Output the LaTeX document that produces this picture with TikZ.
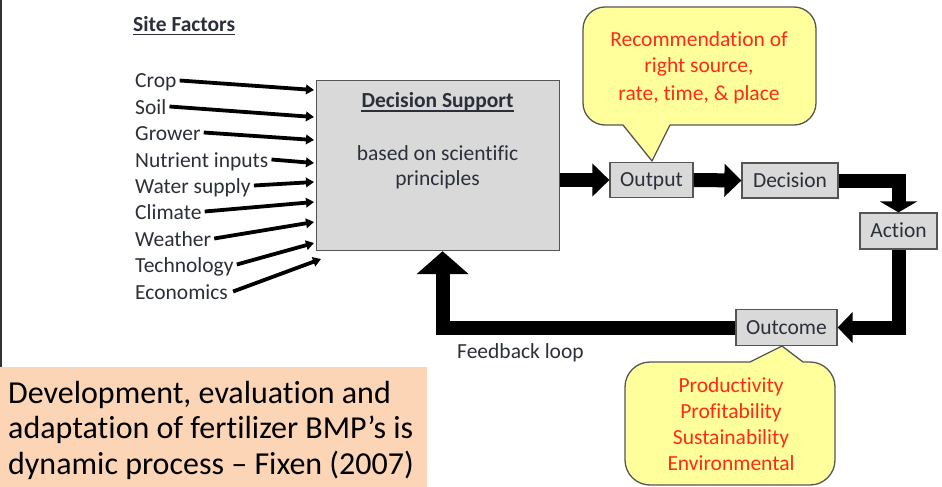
\documentclass[tikz,border=0pt]{standalone}
\usepackage{fontspec}
\setmainfont{Carlito}[Ligatures={CommonOff}]
\usetikzlibrary{arrows.meta,calc}
\definecolor{txt}{HTML}{2B2F3A}
\definecolor{boxg}{HTML}{D9D9D9}
\definecolor{boxb}{HTML}{555555}
\definecolor{yel}{HTML}{FFFF9C}
\definecolor{redt}{HTML}{FF2A1A}
\definecolor{peach}{HTML}{FBD5B5}
\begin{document}
\begin{tikzpicture}[x=1pt,y=-1pt,
  fnt/.style={font=\fontsize{21.5}{26}\selectfont},
  lbl/.style={fnt, anchor=base west, inner xsep=2pt, inner ysep=0pt, text height=15pt, text depth=0pt, text=txt},
  ctext/.style={fnt, anchor=base, inner sep=0pt},
  gbox/.style={draw=boxb, fill=boxg, line width=1.2pt},
  sbox/.style={gbox, fnt, inner sep=0pt, text height=13.8pt, text depth=0pt, text=txt},
  thinarrow/.style={line width=3.8pt, -{Triangle[length=8pt,width=9.5pt]}},
  bigarrow/.style 2 args={line width=14pt, line join=miter, -{Triangle[length=#1,width=#2]}},
  callout/.style={fill=yel, draw=boxb, line width=1.3pt, line join=round},
  peachtext/.style={anchor=base west, inner sep=0pt, text=black, font=\fontsize{32}{36}\selectfont}
]
\useasboundingbox (0,0) rectangle (942,487);

% left border and peach panel
\draw[line width=2pt, black!80] (1,0) -- (1,367);
\fill[peach] (0,367) rectangle (427,487);
\node[peachtext] (p1) at (8,403) {Development, evaluation and};
\node[peachtext] (p2) at (8,438.5) {adaptation of fertilizer BMP’s is};
\node[peachtext] (p3) at (8,474) {dynamic process – Fixen (2007)};

% site factors
\node[lbl, inner xsep=0pt, font=\bfseries\fontsize{21.5}{26}\selectfont] (sf) at (133,32) {Site Factors};
\draw[txt, line width=1.2pt] ([yshift=-2.5pt]sf.base west) -- ([yshift=-2.5pt]sf.base east);

\node[lbl] (crop) at (133,88) {Crop};
\node[lbl] (soil) at (133,114) {Soil};
\node[lbl] (grow) at (133,140) {Grower};
\node[lbl] (nutr) at (133,167) {Nutrient inputs};
\node[lbl] (water) at (133,193) {Water supply};
\node[lbl] (clim) at (133,219) {Climate};
\node[lbl] (weat) at (133,246) {Weather};
\node[lbl] (tech) at (133,272) {Technology};
\node[lbl] (econ) at (133,299) {Economics};

\coordinate (e1) at (314,90);
\coordinate (e2) at (314,117);
\coordinate (e3) at (314,140);
\coordinate (e4) at (314,163);
\coordinate (e5) at (314,182);
\coordinate (e6) at (314,202);
\coordinate (e7) at (314,222);
\coordinate (e8) at (314,243);
\coordinate (e9) at (321,259);

\draw[thinarrow] ([xshift=1pt]crop.east) -- (e1);
\draw[thinarrow] ([xshift=1pt]soil.east) -- (e2);
\draw[thinarrow] ([xshift=1pt]grow.east) -- (e3);
\draw[thinarrow] ([xshift=1pt]nutr.east) -- (e4);
\draw[thinarrow] ([xshift=1pt]water.east) -- (e5);
\draw[thinarrow] ([xshift=1pt]clim.east) -- (e6);
\draw[thinarrow] ([xshift=1pt]weat.east) -- (e7);
\draw[thinarrow] ([xshift=1pt]tech.east) -- (e8);
\draw[thinarrow] ([xshift=3pt]econ.east) -- (e9);

% callouts
\draw[callout] (652,161) -- (623,125) {[rounded corners=22pt] -- (583,125) -- (583,7) -- (816,7) -- (816,125)} -- (670,125) -- cycle;
\node[ctext, text=redt] (r1) at (699,47) {Recommendation of};
\node[ctext, text=redt] (r2) at (699,73) {right source,};
\node[ctext, text=redt] (r3) at (699,100) {rate, time, \& place};

\draw[callout] (782,346) -- (750,362) {[rounded corners=25pt] -- (625,362) -- (625,485) -- (835,485) -- (835,362)} -- (803,362) -- cycle;
\node[ctext, text=redt] (q1) at (731,392) {Productivity};
\node[ctext, text=redt] (q2) at (731,418) {Profitability};
\node[ctext, text=redt] (q3) at (731,444) {Sustainability};
\node[ctext, text=redt] (q4) at (731,470) {Environmental};

% decision support box
\node[gbox, minimum width=243pt, minimum height=170pt, anchor=north west, inner sep=0pt] (ds) at (316,80) {};
\node[ctext, text=txt, font=\bfseries\fontsize{21.5}{26}\selectfont] (dst) at (437.5,107) {Decision Support};
\draw[txt, line width=1.2pt] ([yshift=-4pt]dst.base west) -- ([yshift=-4pt]dst.base east);
\node[ctext, text=txt] (ds1) at (437.5,160) {based on scientific};
\node[ctext, text=txt] (ds2) at (437.5,185) {principles};

% small boxes
\node[sbox, minimum width=83pt, minimum height=35pt] (out) at (651.5,180) {Output};
\node[sbox, minimum width=96pt, minimum height=35pt] (dec) at (790,180.5) {Decision};
\node[sbox, minimum width=77pt, minimum height=36pt] (act) at (898.5,231) {Action};
\node[sbox, minimum width=101pt, minimum height=36pt] (outc) at (786.5,327.5) {Outcome};

% thick connectors
\coordinate (fbtip) at ([xshift=4.5pt]ds.south);
\draw[bigarrow={17pt}{32pt}] (ds.east |- out.west) -- (out.west);
\draw[bigarrow={17pt}{32pt}] (out.east) -- (dec.west);
\draw[bigarrow={11pt}{37pt}] (dec.east) -| (act.north);
\draw[bigarrow={15pt}{30pt}] (act.south) |- (outc.east);
\draw[bigarrow={23pt}{51pt}] (outc.west) -| (fbtip);

\node[lbl, anchor=base west] (fb) at (455,358) {Feedback loop};
\end{tikzpicture}
\end{document}
